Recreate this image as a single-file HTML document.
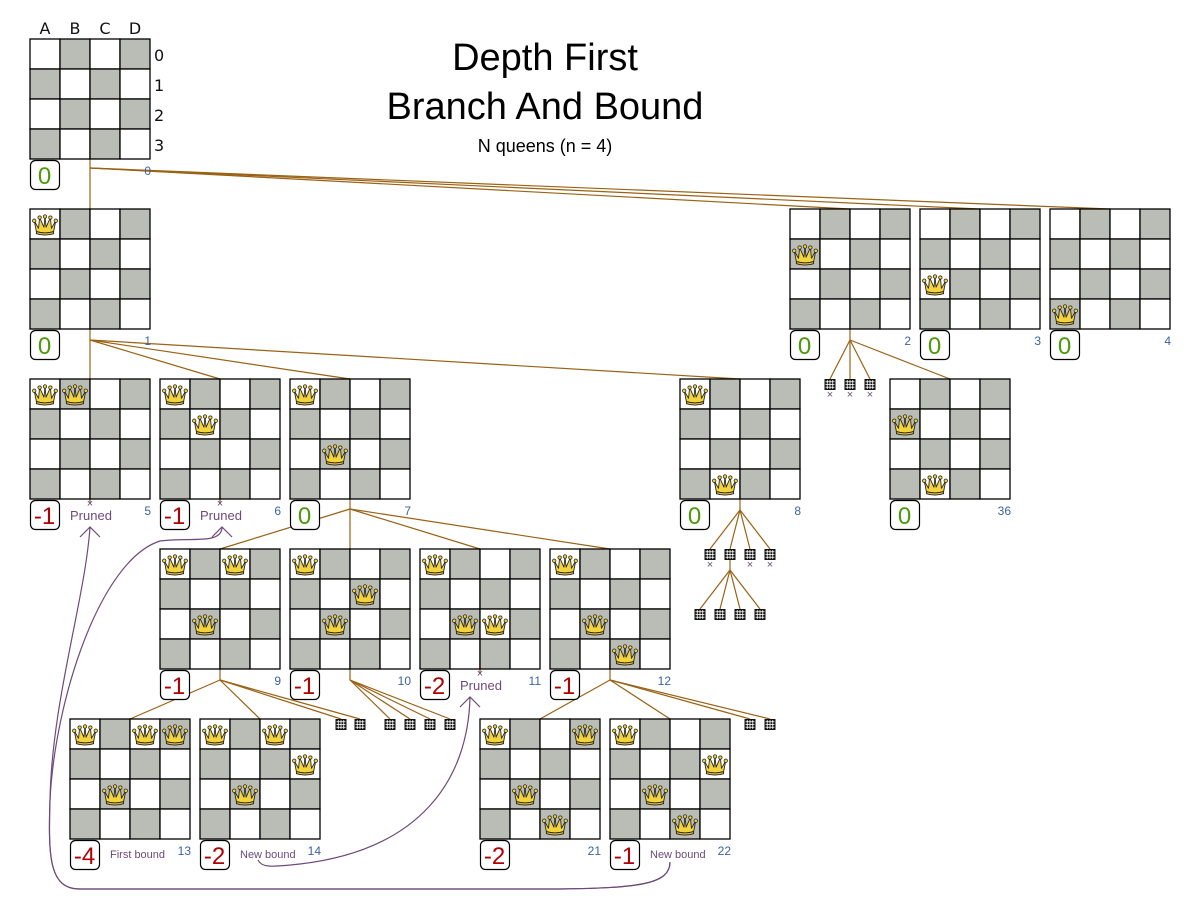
<!DOCTYPE html>
<html><head><meta charset="utf-8"><style>
html,body{margin:0;padding:0;background:#fff;}
svg{display:block;font-family:"Liberation Sans",sans-serif;}
</style></head><body>
<svg id="s" width="1200" height="900" viewBox="0 0 1200 900" xmlns="http://www.w3.org/2000/svg">
<defs>
<symbol id="q" viewBox="0 0 26 22">
<path d="M3,8 L7,15 L8,5 L12,14 L13,4 L14,14 L18,5 L19,15 L23,8 L21,18 Q13,20.5 5,18 Z" fill="#f3d43c" stroke="#222" stroke-width="0.8" stroke-linejoin="round"/>
<path d="M5,18 Q13,20.5 21,18 L21,20 Q13,22.5 5,20 Z" fill="#e9c22c" stroke="#222" stroke-width="0.8"/>
<circle cx="3" cy="8" r="1.6" fill="#f3d43c" stroke="#222" stroke-width="0.7"/>
<circle cx="8" cy="5" r="1.6" fill="#f3d43c" stroke="#222" stroke-width="0.7"/>
<circle cx="13" cy="4" r="1.6" fill="#f3d43c" stroke="#222" stroke-width="0.7"/>
<circle cx="18" cy="5" r="1.6" fill="#f3d43c" stroke="#222" stroke-width="0.7"/>
<circle cx="23" cy="8" r="1.6" fill="#f3d43c" stroke="#222" stroke-width="0.7"/>
</symbol>
</defs>
<g stroke="#9a6214" stroke-width="1.2" fill="none">
<line x1="90" y1="159" x2="90" y2="209"/>
<line x1="90" y1="168" x2="850" y2="209"/>
<line x1="90" y1="168" x2="980" y2="209"/>
<line x1="90" y1="168" x2="1110" y2="209"/>
<line x1="90" y1="329" x2="90" y2="379"/>
<line x1="90" y1="340" x2="220" y2="379"/>
<line x1="90" y1="340" x2="350" y2="379"/>
<line x1="90" y1="340" x2="740" y2="379"/>
<line x1="850" y1="329" x2="850" y2="340"/>
<line x1="850" y1="340" x2="850" y2="379"/>
<line x1="850" y1="340" x2="830" y2="379"/>
<line x1="850" y1="340" x2="870" y2="379"/>
<line x1="850" y1="340" x2="950" y2="379"/>
<line x1="90" y1="499" x2="90" y2="504"/>
<line x1="220" y1="499" x2="220" y2="504"/>
<line x1="350" y1="499" x2="350" y2="549"/>
<line x1="350" y1="509" x2="220" y2="549"/>
<line x1="350" y1="509" x2="480" y2="549"/>
<line x1="350" y1="509" x2="610" y2="549"/>
<line x1="740" y1="499" x2="740" y2="510"/>
<line x1="740" y1="510" x2="710" y2="549"/>
<line x1="740" y1="510" x2="730" y2="549"/>
<line x1="740" y1="510" x2="750" y2="549"/>
<line x1="740" y1="510" x2="770" y2="549"/>
<line x1="730" y1="560" x2="730" y2="570"/>
<line x1="730" y1="570" x2="700" y2="609"/>
<line x1="730" y1="570" x2="720" y2="609"/>
<line x1="730" y1="570" x2="740" y2="609"/>
<line x1="730" y1="570" x2="760" y2="609"/>
<line x1="220" y1="669" x2="220" y2="680"/>
<line x1="220" y1="680" x2="130" y2="719"/>
<line x1="220" y1="680" x2="260" y2="719"/>
<line x1="220" y1="680" x2="341" y2="719"/>
<line x1="220" y1="680" x2="360" y2="719"/>
<line x1="350" y1="669" x2="350" y2="680"/>
<line x1="350" y1="680" x2="390" y2="719"/>
<line x1="350" y1="680" x2="410" y2="719"/>
<line x1="350" y1="680" x2="430" y2="719"/>
<line x1="350" y1="680" x2="450" y2="719"/>
<line x1="480" y1="669" x2="480" y2="674"/>
<line x1="610" y1="669" x2="610" y2="680"/>
<line x1="610" y1="680" x2="540" y2="719"/>
<line x1="610" y1="680" x2="670" y2="719"/>
<line x1="610" y1="680" x2="750" y2="719"/>
<line x1="610" y1="680" x2="770" y2="719"/>
</g>
<g id="boards"></g>
<g id="boxes"></g>
<g id="minis"></g>
<g fill="none" stroke="#6e4a7a" stroke-width="1.2">
<path d="M670,862 C670,884 640,888 560,889 L80,889 C50,889 48,860 50,800 C52,700 85,600 90,527"/>
<path d="M670,862 C670,884 640,888 560,889 L80,889 C50,889 48,860 50,800 C55,700 100,560 160,541 C190,537 222,545 222,527"/>
<path d="M258,860 C262,868 272,867 300,864 C420,850 468,780 470,697"/>
<path d="M80,537 L90,527 L100,537 M212,537 L222,527 L232,537 M460,707 L470,697 L480,707"/>
</g>
<g font-size="11" fill="#6e4a7a" text-anchor="middle">
<text x="90" y="507">×</text><text x="220" y="507">×</text><text x="480" y="677">×</text>
<text x="830" y="398">×</text><text x="850" y="398">×</text><text x="870" y="398">×</text>
<text x="710" y="568">×</text><text x="750" y="568">×</text><text x="770" y="568">×</text>
</g>
<g font-size="13" fill="#6e4a7a">
<text x="70" y="520">Pruned</text><text x="200" y="520">Pruned</text><text x="460" y="690">Pruned</text>
<text x="110" y="858" font-size="11">First bound</text>
<text x="240" y="858" font-size="11">New bound</text>
<text x="650" y="858" font-size="11">New bound</text>
</g>
<g font-size="16" fill="#111" text-anchor="middle" font-family="DejaVu Sans, sans-serif">
<text x="45" y="34">A</text><text x="75" y="34">B</text><text x="105" y="34">C</text><text x="135" y="34">D</text>
</g>
<g font-size="16" fill="#111" font-family="DejaVu Sans, sans-serif">
<text x="154" y="61">0</text><text x="154" y="91">1</text><text x="154" y="121">2</text><text x="154" y="151">3</text>
</g>
<g text-anchor="middle" fill="#000">
<text x="545" y="70" font-size="38">Depth First</text>
<text x="545" y="119" font-size="38">Branch And Bound</text>
<text x="545" y="152" font-size="18">N queens (n = 4)</text>
</g>
<g font-size="12" fill="#3a64a0" text-anchor="end">
<text x="151" y="175">0</text><text x="151" y="345">1</text><text x="911" y="345">2</text><text x="1041" y="345">3</text><text x="1171" y="345">4</text>
<text x="151" y="515">5</text><text x="281" y="515">6</text><text x="411" y="515">7</text><text x="801" y="515">8</text><text x="1011" y="515">36</text>
<text x="281" y="685">9</text><text x="411" y="685">10</text><text x="541" y="685">11</text><text x="671" y="685">12</text>
<text x="191" y="855">13</text><text x="321" y="855">14</text><text x="601" y="855">21</text><text x="731" y="855">22</text>
</g>
<g font-size="24" text-anchor="middle">
<text x="44.5" y="184" fill="#4c9a0a">0</text>
<text x="44.5" y="354" fill="#4c9a0a">0</text>
<text x="804.5" y="354" fill="#4c9a0a">0</text>
<text x="934.5" y="354" fill="#4c9a0a">0</text>
<text x="1064.5" y="354" fill="#4c9a0a">0</text>
<text x="44.5" y="524" fill="#b00000">-1</text>
<text x="174.5" y="524" fill="#b00000">-1</text>
<text x="304.5" y="524" fill="#4c9a0a">0</text>
<text x="694.5" y="524" fill="#4c9a0a">0</text>
<text x="904.5" y="524" fill="#4c9a0a">0</text>
<text x="174.5" y="694" fill="#b00000">-1</text>
<text x="304.5" y="694" fill="#b00000">-1</text>
<text x="434.5" y="694" fill="#b00000">-2</text>
<text x="564.5" y="694" fill="#b00000">-1</text>
<text x="84.5" y="864" fill="#b00000">-4</text>
<text x="214.5" y="864" fill="#b00000">-2</text>
<text x="494.5" y="864" fill="#b00000">-2</text>
<text x="624.5" y="864" fill="#b00000">-1</text>
</g>
</svg>
<script>
var NS="http://www.w3.org/2000/svg";
function el(n,a,p){var e=document.createElementNS(NS,n);for(var k in a)e.setAttribute(k,a[k]);p.appendChild(e);return e;}
var B=[[30,39,[]],[30,209,[[0,0]]],[790,209,[[0,1]]],[920,209,[[0,2]]],[1050,209,[[0,3]]],
[30,379,[[0,0],[1,0]]],[160,379,[[0,0],[1,1]]],[290,379,[[0,0],[1,2]]],[680,379,[[0,0],[1,3]]],[890,379,[[0,1],[1,3]]],
[160,549,[[0,0],[2,0],[1,2]]],[290,549,[[0,0],[2,1],[1,2]]],[420,549,[[0,0],[1,2],[2,2]]],[550,549,[[0,0],[1,2],[2,3]]],
[70,719,[[0,0],[2,0],[3,0],[1,2]]],[200,719,[[0,0],[2,0],[3,1],[1,2]]],[480,719,[[0,0],[3,0],[1,2],[2,3]]],[610,719,[[0,0],[3,1],[1,2],[2,3]]]];
var g=document.getElementById('boards'),bx=document.getElementById('boxes');
B.forEach(function(b){
 for(var r=0;r<4;r++)for(var c=0;c<4;c++)el('rect',{x:b[0]+c*30,y:b[1]+r*30,width:30,height:30,fill:(r+c)%2?'#babdb6':'#fff',stroke:'#000','stroke-width':1.3},g);
 b[2].forEach(function(q){el('use',{href:'#q',x:b[0]+q[0]*30+1,y:b[1]+q[1]*30+3,width:28,height:24},g);});
 el('rect',{x:b[0]+0.5,y:b[1]+121.5,width:29,height:29,rx:5,fill:'#fff',stroke:'#000','stroke-width':1.2},bx);
});
var M=[[830,379],[850,379],[870,379],[710,549],[730,549],[750,549],[770,549],[700,609],[720,609],[740,609],[760,609],
[341,719],[360,719],[390,719],[410,719],[430,719],[450,719],[750,719],[770,719]];
var mg=document.getElementById('minis');
M.forEach(function(m){var x=m[0]-5.5,y=m[1];
 el('rect',{x:x,y:y,width:11,height:11,fill:'#111'},mg);
 for(var i=1;i<4;i++){el('line',{x1:x+i*2.75,y1:y+1,x2:x+i*2.75,y2:y+10,stroke:'#fff','stroke-width':0.8},mg);
 el('line',{x1:x+1,y1:y+i*2.75,x2:x+10,y2:y+i*2.75,stroke:'#fff','stroke-width':0.8},mg);}
});
</script>
</body></html>
